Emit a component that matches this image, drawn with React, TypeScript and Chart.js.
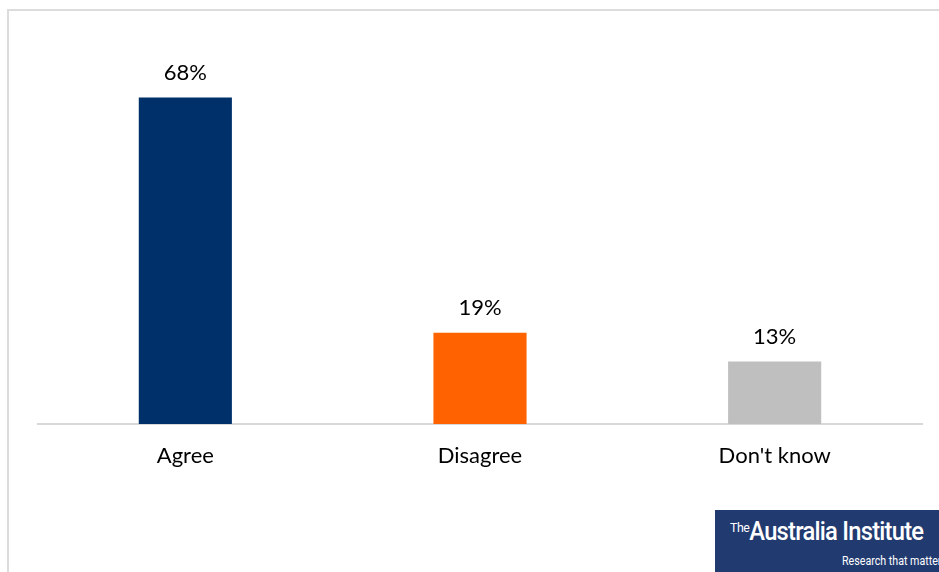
import React, { useEffect, useRef } from "react";
import { Chart, registerables } from "chart.js";

Chart.register(...registerables);

const categories = ["Agree", "Disagree", "Don't know"];
const values = [68, 19, 13];
const barColors = ["#003069", "#ff6200", "#bfbfbf"];
const valueLabels = ["68%", "19%", "13%"];

const FONT = "Lato, 'Open Sans', sans-serif";

export default function App() {
  const ref = useRef<HTMLCanvasElement | null>(null);

  useEffect(() => {
    document.body.style.margin = "0";
    const canvas = ref.current;
    if (!canvas) return;

    const labelPlugin = {
      id: "valueLabels",
      afterDatasetsDraw(chart: any) {
        const ctx = chart.ctx;
        const meta = chart.getDatasetMeta(0);
        ctx.save();
        ctx.fillStyle = "#000000";
        ctx.font = `22px ${FONT}`;
        ctx.textAlign = "center";
        ctx.textBaseline = "middle";
        meta.data.forEach((el: any, i: number) => {
          ctx.fillText(valueLabels[i], el.x, el.y - 25);
        });
        ctx.restore();
      },
    };

    const chart = new Chart(canvas, {
      type: "bar",
      data: {
        labels: categories,
        datasets: [
          {
            data: values,
            backgroundColor: barColors,
            barPercentage: 0.316,
            categoryPercentage: 1,
          },
        ],
      },
      options: {
        animation: false,
        responsive: false,
        maintainAspectRatio: false,
        layout: { padding: { left: 38, right: 17, top: 40, bottom: 88 } },
        plugins: { legend: { display: false }, tooltip: { enabled: false } },
        scales: {
          x: {
            grid: { display: false, drawTicks: false },
            border: { display: true, color: "#d9d9d9", width: 2 },
            ticks: {
              color: "#000000",
              font: { family: FONT, size: 22 },
              padding: 19,
            },
            afterFit(scale: any) {
              scale.height = 60;
            },
          },
          y: {
            display: false,
            min: 0,
            max: 80,
          },
        },
      },
      plugins: [labelPlugin],
    });

    return () => chart.destroy();
  }, []);

  return (
    <div style={{ position: "relative", width: 939, height: 572, overflow: "hidden", background: "#fff" }}>
      <div
        style={{
          position: "absolute",
          left: 7,
          top: 9,
          width: 960,
          height: 600,
          borderLeft: "2px solid #dcdcdc",
          borderTop: "2px solid #dcdcdc",
          boxSizing: "border-box",
        }}
      />
      <canvas ref={ref} width={939} height={572} style={{ position: "absolute", left: 0, top: 0, width: 939, height: 572 }} />
      <div
        style={{
          position: "absolute",
          left: 715,
          top: 510,
          width: 240,
          height: 62,
          background: "#213a70",
          color: "#ffffff",
          fontFamily: "Roboto, sans-serif",
        }}
      >
        <div
          style={{
            position: "absolute",
            left: 15,
            top: 9,
            whiteSpace: "nowrap",
            lineHeight: 1,
            transform: "scaleX(0.95)",
            transformOrigin: "left top",
          }}
        >
          <span style={{ fontSize: 13, verticalAlign: "top", position: "relative", top: 2, letterSpacing: -0.5 }}>The</span>
          <span style={{ fontSize: 25, fontWeight: 500, letterSpacing: -0.8 }}>Australia Institute</span>
        </div>
        <div
          style={{
            position: "absolute",
            left: 127,
            top: 44,
            fontSize: 13,
            whiteSpace: "nowrap",
            lineHeight: 1,
            transform: "scaleX(0.82)",
            transformOrigin: "left top",
          }}
        >
          Research that matters
        </div>
      </div>
    </div>
  );
}
